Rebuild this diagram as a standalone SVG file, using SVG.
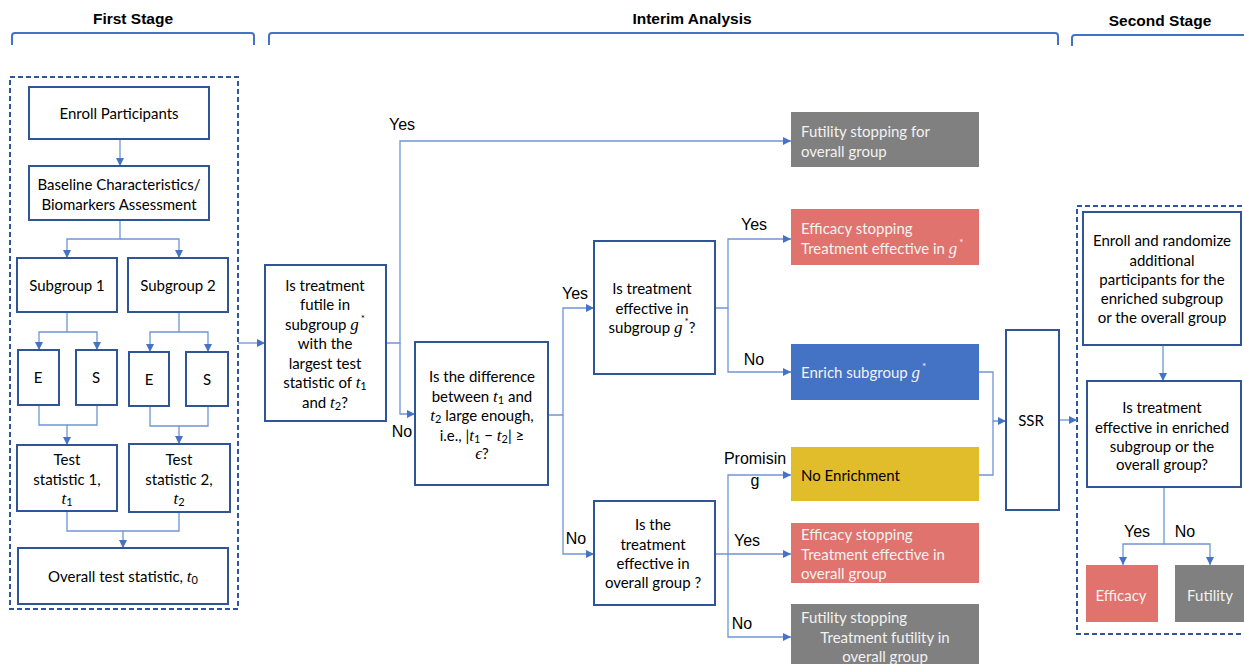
<svg xmlns="http://www.w3.org/2000/svg" width="1244" height="664" viewBox="0 0 1244 664">
<defs>
<marker id="arr" viewBox="0 0 10 10" refX="10" refY="5" markerWidth="8" markerHeight="8" markerUnits="userSpaceOnUse" orient="auto">
<path d="M0,0 L10,5 L0,10 z" fill="#4472C4"/>
</marker>
<style>
.hdr{font-family:"Liberation Sans",Arial,sans-serif;font-weight:bold;font-size:15.5px;fill:#000;text-anchor:middle}
.brk{fill:none;stroke:#4472C4;stroke-width:2}
.dash{fill:none;stroke:#2F5597;stroke-width:2;stroke-dasharray:5 3}
.box{fill:#fff;stroke:#2F5597;stroke-width:2}
.t{font-family:Lato,"Liberation Sans",sans-serif;font-size:15px;fill:#000;text-anchor:middle;dominant-baseline:central}
.tl{font-family:Lato,"Liberation Sans",sans-serif;font-size:15px;fill:#F2F2F2;dominant-baseline:central}
.lbl{font-family:"Liberation Sans",Arial,sans-serif;font-size:16px;fill:#000;text-anchor:middle;dominant-baseline:central}
.m{font-family:"Liberation Serif","DejaVu Serif",serif;font-style:italic;font-size:17px}
.red{fill:#E0736D}
.blu{fill:#4472C4}
.gld{fill:#E1BC2B}
.gry{fill:#808080}
.c{fill:none;stroke:#6F95D6;stroke-width:1.3}
.ca{fill:none;stroke:#6F95D6;stroke-width:1.3;marker-end:url(#arr)}
</style>
</defs>
<rect width="1244" height="664" fill="#fff"/>

<g id="headers">
<text class="hdr" x="133" y="24">First Stage</text>
<text class="hdr" x="692" y="24">Interim Analysis</text>
<text class="hdr" x="1160" y="26">Second Stage</text>
<path class="brk" d="M12,45 V36 Q12,33 15,33 H251 Q254,33 254,36 V45"/>
<path class="brk" d="M269,45 V36 Q269,33 272,33 H1055 Q1058,33 1058,36 V45"/>
<path class="brk" d="M1072,46 V38 Q1072,35 1075,35 H1246"/>
</g>

<g id="stage-boxes">
<rect class="dash" x="10" y="77" width="228" height="532"/>
<rect class="dash" x="1077" y="206" width="172" height="428"/>
</g>

<g id="connectors">
<path class="ca" d="M120,139 V166"/>
<path class="ca" d="M120,220 V239 H67 V258"/>
<path class="ca" d="M120,239 H179 V258"/>
<path class="ca" d="M67,312 V332 H39 V350"/>
<path class="ca" d="M67,332 H97 V350"/>
<path class="ca" d="M179,312 V332 H150 V352"/>
<path class="ca" d="M179,332 H208 V352"/>
<path class="ca" d="M39,405 V425 H67 V445"/>
<path class="c" d="M97,405 V425 H67"/>
<path class="ca" d="M150,406 V426 H179 V444"/>
<path class="c" d="M208,406 V426 H179"/>
<path class="ca" d="M67,511 V531 H123 V548"/>
<path class="c" d="M179,512 V531 H123"/>
<path class="ca" d="M238,343 H265"/>
<path class="ca" d="M386,343 H400 V141 H791"/>
<path class="ca" d="M400,343 V414 H415"/>
<path class="ca" d="M548,415 H563 V308 H594"/>
<path class="ca" d="M563,415 V554 H594"/>
<path class="ca" d="M715,308 H728 V239 H791"/>
<path class="ca" d="M728,308 V372 H791"/>
<path class="ca" d="M715,554 H728 V475 H791"/>
<path class="ca" d="M728,554 H791"/>
<path class="ca" d="M728,554 V637 H791"/>
<path class="ca" d="M979,372 H993 V421 H1006"/>
<path class="c" d="M979,475 H993 V421"/>
<path class="ca" d="M1059,420 H1077"/>
<path class="ca" d="M1163,345 V381"/>
<path class="ca" d="M1164,487 V544 H1123 V565"/>
<path class="ca" d="M1164,544 H1210 V565"/>
</g>

<g id="edge-labels">
<text class="lbl" x="402" y="124">Yes</text>
<text class="lbl" x="402" y="431">No</text>
<text class="lbl" x="575" y="293">Yes</text>
<text class="lbl" x="576" y="538">No</text>
<text class="lbl" x="754" y="224">Yes</text>
<text class="lbl" x="754" y="359">No</text>
<text class="lbl" x="755" y="458">Promisin</text>
<text class="lbl" x="755" y="480">g</text>
<text class="lbl" x="747" y="540">Yes</text>
<text class="lbl" x="742" y="623">No</text>
<text class="lbl" x="1137" y="531">Yes</text>
<text class="lbl" x="1185" y="531">No</text>
</g>

<g id="enroll">
<rect class="box" x="29" y="87" width="180" height="52"/>
<text class="t" x="119" y="113">Enroll Participants</text>
</g>
<g id="baseline">
<rect class="box" x="29" y="166" width="180" height="54"/>
<text class="t" x="119" y="184">Baseline Characteristics/</text>
<text class="t" x="119" y="204">Biomarkers Assessment</text>
</g>
<g id="subgroup1">
<rect class="box" x="17" y="258" width="100" height="54"/>
<text class="t" x="67" y="285">Subgroup 1</text>
</g>
<g id="subgroup2">
<rect class="box" x="128" y="258" width="100" height="54"/>
<text class="t" x="178" y="285">Subgroup 2</text>
</g>
<g id="e1">
<rect class="box" x="18" y="350" width="41" height="55"/>
<text class="t" x="38" y="377">E</text>
</g>
<g id="s1">
<rect class="box" x="76" y="350" width="41" height="55"/>
<text class="t" x="96" y="377">S</text>
</g>
<g id="e2">
<rect class="box" x="129" y="352" width="40" height="54"/>
<text class="t" x="149" y="379">E</text>
</g>
<g id="s2">
<rect class="box" x="186" y="352" width="42" height="54"/>
<text class="t" x="207" y="379">S</text>
</g>
<g id="test1">
<rect class="box" x="17" y="445" width="100" height="66"/>
<text class="t" x="67" y="459">Test</text>
<text class="t" x="67" y="479">statistic 1,</text>
<text class="t" x="67" y="498"><tspan class="m">t</tspan><tspan font-size="11" dy="3">1</tspan></text>
</g>
<g id="test2">
<rect class="box" x="129" y="444" width="101" height="68"/>
<text class="t" x="179" y="459">Test</text>
<text class="t" x="179" y="479">statistic 2,</text>
<text class="t" x="179" y="498"><tspan class="m">t</tspan><tspan font-size="11" dy="3">2</tspan></text>
</g>
<g id="overall">
<rect class="box" x="18" y="548" width="210" height="56"/>
<text class="t" x="123" y="576">Overall test statistic, <tspan class="m">t</tspan><tspan font-size="11" dy="3">0</tspan></text>
</g>

<g id="q-futile">
<rect class="box" x="265" y="265" width="121" height="156"/>
<text class="t" x="325" y="285">Is treatment</text>
<text class="t" x="325" y="304">futile in</text>
<text class="t" x="325" y="324">subgroup  <tspan class="m">g</tspan><tspan font-size="10" dx="2" dy="-6">*</tspan></text>
<text class="t" x="325" y="343">with the</text>
<text class="t" x="325" y="363">largest test</text>
<text class="t" x="325" y="382">statistic of <tspan class="m">t</tspan><tspan font-size="11" dy="3">1</tspan></text>
<text class="t" x="325" y="402">and <tspan class="m">t</tspan><tspan font-size="11" dy="3">2</tspan><tspan dy="-3">?</tspan></text>
</g>
<g id="q-diff">
<rect class="box" x="415" y="342" width="133" height="143"/>
<text class="t" x="482" y="376">Is the difference</text>
<text class="t" x="482" y="396">between <tspan class="m">t</tspan><tspan font-size="11" dy="3">1</tspan><tspan dy="-3"> and</tspan></text>
<text class="t" x="482" y="415"><tspan class="m">t</tspan><tspan font-size="11" dy="3">2</tspan><tspan dy="-3"> large enough,</tspan></text>
<text class="t" x="482" y="435">i.e., |<tspan class="m">t</tspan><tspan font-size="11" dy="3">1</tspan><tspan dy="-3"> − </tspan><tspan class="m">t</tspan><tspan font-size="11" dy="3">2</tspan><tspan dy="-3">| ≥</tspan></text>
<text class="t" x="482" y="453"><tspan class="m">ϵ</tspan>?</text>
</g>
<g id="q-sub-eff">
<rect class="box" x="594" y="241" width="121" height="133"/>
<text class="t" x="652" y="288">Is treatment</text>
<text class="t" x="652" y="308">effective in</text>
<text class="t" x="652" y="327">subgroup <tspan class="m">g</tspan><tspan font-size="10" dx="2" dy="-6">*</tspan><tspan dy="6">?</tspan></text>
</g>
<g id="q-overall-eff">
<rect class="box" x="594" y="501" width="121" height="104"/>
<text class="t" x="653" y="524">Is the</text>
<text class="t" x="653" y="544">treatment</text>
<text class="t" x="653" y="563">effective in</text>
<text class="t" x="653" y="582">overall group ?</text>
</g>

<g id="futility-overall">
<rect class="gry" x="791" y="112" width="188" height="55"/>
<text class="tl" x="801" y="131">Futility stopping for</text>
<text class="tl" x="801" y="151">overall group</text>
</g>
<g id="efficacy-sub">
<rect class="red" x="791" y="209" width="188" height="56"/>
<text class="tl" x="801" y="228">Efficacy stopping</text>
<text class="tl" x="801" y="248">Treatment effective in <tspan class="m">g</tspan><tspan font-size="10" dx="2" dy="-6">*</tspan></text>
</g>
<g id="enrich">
<rect class="blu" x="791" y="344" width="188" height="56"/>
<text class="tl" x="801" y="372">Enrich subgroup  <tspan class="m">g</tspan><tspan font-size="10" dx="2" dy="-6">*</tspan></text>
</g>
<g id="no-enrich">
<rect class="gld" x="791" y="447" width="188" height="54"/>
<text class="tl" x="801" y="475" style="fill:#000">No Enrichment</text>
</g>
<g id="efficacy-overall">
<rect class="red" x="791" y="523" width="188" height="60"/>
<text class="tl" x="801" y="534">Efficacy stopping</text>
<text class="tl" x="801" y="554">Treatment effective in</text>
<text class="tl" x="801" y="573">overall group</text>
</g>
<g id="futility-overall-2">
<rect class="gry" x="791" y="604" width="188" height="62"/>
<text class="tl" x="801" y="617">Futility stopping</text>
<text class="tl" x="885" y="637" text-anchor="middle">Treatment futility in</text>
<text class="tl" x="885" y="656" text-anchor="middle">overall group</text>
</g>

<g id="ssr">
<rect class="box" x="1006" y="330" width="53" height="180"/>
<text class="t" x="1031" y="420">SSR</text>
</g>

<g id="enroll2">
<rect class="box" x="1083" y="212" width="158" height="133"/>
<text class="t" x="1162" y="240">Enroll and randomize</text>
<text class="t" x="1162" y="260">additional</text>
<text class="t" x="1162" y="279">participants for the</text>
<text class="t" x="1162" y="298">enriched subgroup</text>
<text class="t" x="1162" y="317">or the overall group</text>
</g>
<g id="q-final">
<rect class="box" x="1087" y="381" width="154" height="106"/>
<text class="t" x="1162" y="407">Is treatment</text>
<text class="t" x="1162" y="427">effective in enriched</text>
<text class="t" x="1162" y="446">subgroup or the</text>
<text class="t" x="1162" y="464">overall group?</text>
</g>
<g id="efficacy-final">
<rect class="red" x="1086" y="565" width="72" height="57"/>
<text class="tl" x="1121" y="595" text-anchor="middle">Efficacy</text>
</g>
<g id="futility-final">
<rect class="gry" x="1175" y="565" width="72" height="57"/>
<text class="tl" x="1210" y="595" text-anchor="middle">Futility</text>
</g>
</svg>
